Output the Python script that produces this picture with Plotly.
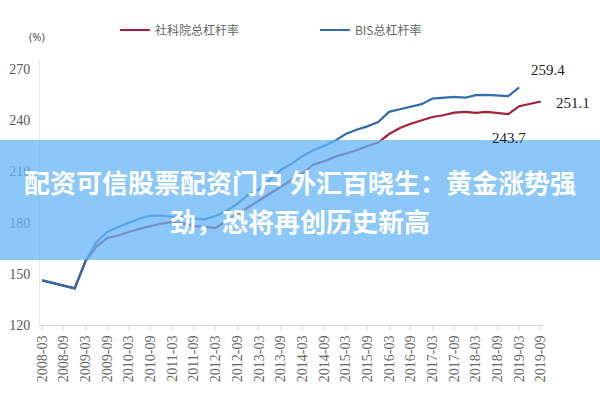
import plotly.graph_objects as go

# ---- data (quarterly) ----
quarters = [f"{y}-{m:02d}" for y in range(2008, 2020) for m in (3, 6, 9, 12)][:47]
tick_labels = [f"{y}-{m}" for y in range(2008, 2020) for m in ("03", "09")]

cass_total = [146.2, 144.5, 143.0, 141.5, 157.5, 166.0, 171.0, 172.5, 174.5, 176.5,
              178.0, 179.5, 180.3, 179.5, 178.0, 177.5, 177.0, 181.0, 185.0, 188.5,
              192.5, 197.0, 201.0, 205.0, 209.0, 214.0, 216.0, 218.6, 220.5, 222.5,
              225.0, 227.0, 232.0, 235.5, 238.0, 240.0, 242.0, 243.0, 244.5, 245.0,
              244.4, 245.0, 244.5, 243.7, 248.3, 249.5, 251.1]

bis_total = [146.2, 144.5, 143.0, 141.5, 157.5, 168.5, 174.5, 177.5, 180.0, 182.5,
             184.2, 184.2, 183.5, 183.5, 182.5, 182.0, 184.0, 187.0, 191.0, 196.5,
             199.5, 205.5, 211.0, 214.5, 219.0, 222.5, 225.0, 228.0, 232.0, 234.5,
             236.5, 239.0, 245.0, 246.5, 248.0, 249.5, 252.8, 253.5, 253.8, 253.3,
             254.8, 255.0, 254.5, 254.2, 259.4]

series_names = ["社科院总杠杆率", "BIS总杠杆率"]
y_ticks = [120, 150, 180, 210, 240, 270]
title_lines = ["配资可信股票配资门户 外汇百晓生：黄金涨势强", "劲，恐将再创历史新高"]

RED = "#A0213A"
BLUE = "#2F6CAD"
SERIF = "Liberation Serif, Times New Roman, serif"

idx = list(range(len(quarters)))

fig = go.Figure()
fig.add_trace(go.Scatter(x=idx, y=cass_total, mode="lines", name=series_names[0],
                         line=dict(color=RED, width=2.2)))
fig.add_trace(go.Scatter(x=idx[:len(bis_total)], y=bis_total, mode="lines", name=series_names[1],
                         line=dict(color=BLUE, width=2.2)))

# value labels
fig.add_annotation(x=len(bis_total) - 1, y=bis_total[-1], text=f"{bis_total[-1]:.1f}",
                   showarrow=False, xshift=29, yshift=17,
                   font=dict(family=SERIF, size=15, color="#222"))
fig.add_annotation(x=len(cass_total) - 1, y=cass_total[-1], text=f"{cass_total[-1]:.1f}",
                   showarrow=False, xshift=32, yshift=-2,
                   font=dict(family=SERIF, size=15, color="#222"))
fig.add_annotation(x=43, y=cass_total[43], text=f"{cass_total[43]:.1f}",
                   showarrow=False, xshift=1, yshift=-24,
                   font=dict(family=SERIF, size=15, color="#222"))

# unit label
fig.add_annotation(xref="paper", yref="paper", x=-0.026, y=1.086, text="(%)",
                   showarrow=False, xanchor="left", yanchor="middle",
                   font=dict(family="Noto Sans", size=11, color="#555"))

# overlay banner
fig.add_shape(type="rect", xref="paper", yref="paper",
              x0=-0.08, x1=1.12, y0=0.2444, y1=0.6955,
              fillcolor="rgba(100,180,245,0.75)", line=dict(width=0), layer="above")
for text, yp in zip(title_lines, [0.5376, 0.391]):
    fig.add_annotation(xref="paper", yref="paper", x=0.517, y=yp, text=f"<b>{text}</b>",
                       showarrow=False, xanchor="center", yanchor="middle",
                       font=dict(family="Noto Sans CJK SC", size=26, color="white"))

fig.update_layout(
    width=600, height=400,
    margin=dict(l=40, r=57, t=59, b=75),
    paper_bgcolor="white", plot_bgcolor="white",
    showlegend=True,
    legend=dict(orientation="h", x=0.149, y=1.109, xanchor="left", yanchor="middle",
                entrywidth=155, entrywidthmode="pixels",
                font=dict(family="Noto Sans CJK SC", size=12, color="#666"),
                bgcolor="rgba(0,0,0,0)"),
)
fig.update_xaxes(range=[-0.2, 46.2], tickmode="array", automargin=False,
                 tickvals=[i for i in idx if i % 2 == 0], ticktext=tick_labels,
                 tickangle=-90, showgrid=False, zeroline=False,
                 showline=True, linecolor="#d9d9d9", linewidth=1,
                 ticks="outside", ticklen=4, tickcolor="#d9d9d9",
                 tickfont=dict(family=SERIF, size=14, color="#666"))
fig.update_yaxes(range=[120, 276], tickmode="array", tickvals=y_ticks, automargin=False,
                 showgrid=False, zeroline=False,
                 showline=True, linecolor="#e6e6e6", linewidth=1,
                 ticks="", ticklabelstandoff=6,
                 tickfont=dict(family=SERIF, size=14, color="#555"))

fig.write_html("out.html", config={"displayModeBar": False},
               post_script="document.body.style.margin='0';document.body.style.overflow='hidden';")
